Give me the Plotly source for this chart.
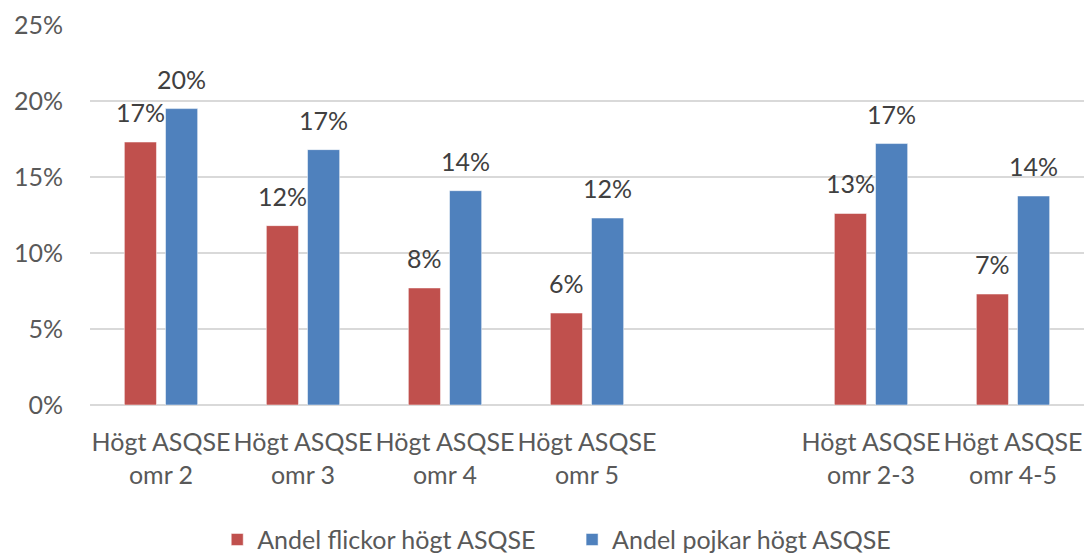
import plotly.graph_objects as go

categories = ["Högt ASQSE<br>omr 2", "Högt ASQSE<br>omr 3", "Högt ASQSE<br>omr 4",
              "Högt ASQSE<br>omr 5", " ", "Högt ASQSE<br>omr 2-3", "Högt ASQSE<br>omr 4-5"]
flickor = [0.173, 0.118, 0.077, 0.0605, None, 0.126, 0.073]
pojkar = [0.195, 0.168, 0.141, 0.123, None, 0.172, 0.1375]
series_names = ["Andel flickor högt ASQSE", "Andel pojkar högt ASQSE"]
colors = ["#C0504D", "#4F81BD"]
y_ticks = [0, 0.05, 0.10, 0.15, 0.20, 0.25]

FONT = "Lato"
TXT = "#595959"
FS = 25

fig = go.Figure()
for name, vals, col, lg in zip(series_names, [flickor, pojkar], colors, ["legend", "legend2"]):
    fig.add_trace(go.Bar(x=categories, y=vals, name=name, marker_color=col, legend=lg,
                         showlegend=True,
                         marker_line=dict(color="rgba(255,255,255,0.5)", width=1)))

annotations = []
for vals, shift in [(flickor, -20.5), (pojkar, 20.5)]:
    for c, v in zip(categories, vals):
        if v is None:
            continue
        annotations.append(dict(x=c, y=v, text=f"{round(v*100):d}%", showarrow=False,
                                xshift=shift, yshift=30,
                                font=dict(family=FONT, size=FS, color="#404040")))

leg_common = dict(orientation="h", xanchor="left", yref="container", y=0.024,
                  yanchor="middle", font=dict(family=FONT, size=FS, color=TXT),
                  itemwidth=30, bgcolor="rgba(0,0,0,0)", visible=True)

fig.update_layout(
    width=1084, height=553,
    margin=dict(l=90, r=0, t=25, b=148, autoexpand=False),
    showlegend=True,
    plot_bgcolor="white", paper_bgcolor="white",
    barmode="group", bargap=0.42, bargroupgap=0.22,
    font=dict(family=FONT, size=FS, color=TXT),
    annotations=annotations,
    legend=dict(x=0.128, **leg_common),
    legend2=dict(x=0.485, **leg_common),
    xaxis=dict(showgrid=False, showline=False, ticks="", ticklabelstandoff=20,
               tickfont=dict(size=FS, color=TXT)),
    yaxis=dict(range=[0, 0.25], tickvals=y_ticks, tickformat=".0%", showgrid=True,
               gridcolor="#D9D9D9", gridwidth=1.5, zeroline=True, zerolinecolor="#D9D9D9",
               zerolinewidth=1.5, showline=False, ticks="", ticklabelstandoff=26,
               tickfont=dict(size=FS, color=TXT)),
)
fig.write_html("out.html", config={"displayModeBar": False},
               post_script="document.body.style.margin='0';document.body.style.overflow='hidden';")
